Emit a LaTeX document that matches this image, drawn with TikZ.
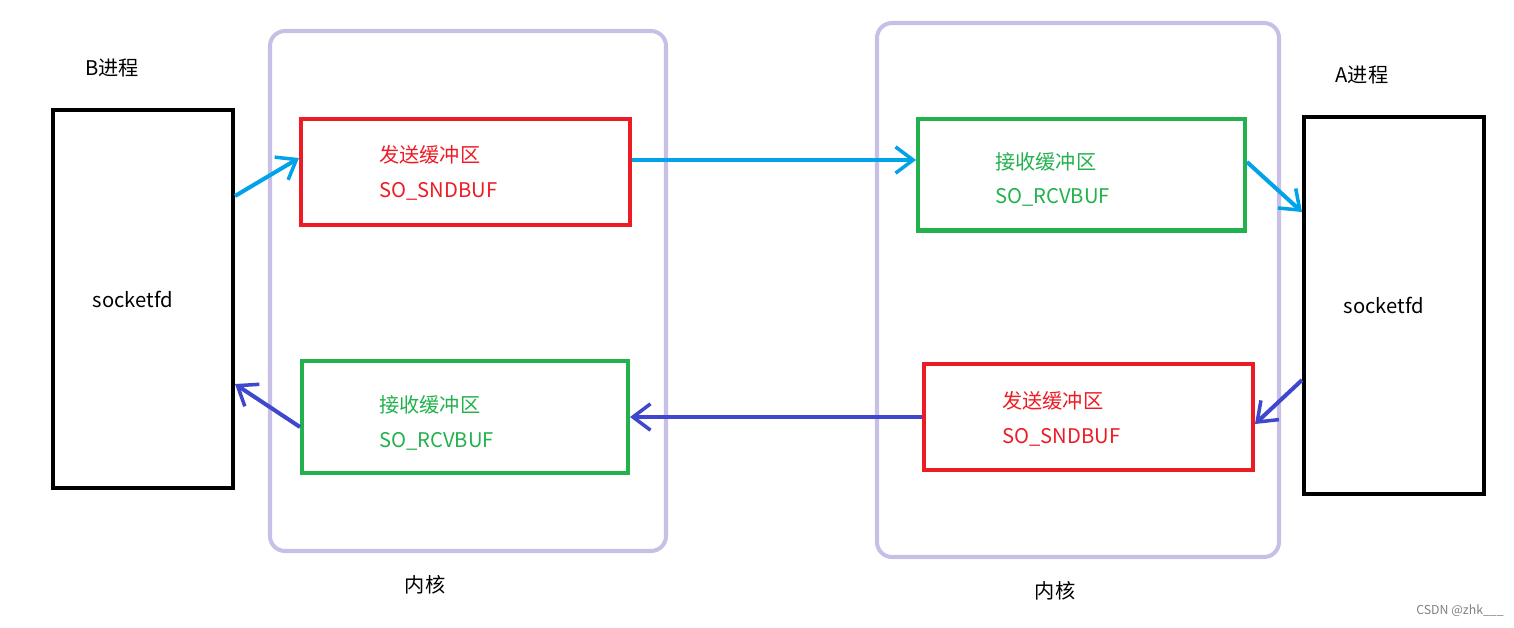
\documentclass[tikz,border=0pt]{standalone}
\usepackage{fontspec}
\setmainfont{Noto Sans CJK SC}
\usetikzlibrary{calc}
\usetikzlibrary{arrows.meta}

\definecolor{kernelc}{RGB}{200,191,231}
\definecolor{bufred}{RGB}{237,28,36}
\definecolor{bufgreen}{RGB}{34,177,76}
\definecolor{sendc}{RGB}{0,162,232}
\definecolor{backc}{RGB}{63,72,204}

\tikzset{
 kernel/.style={draw=kernelc, line width=2.3pt, rounded corners=0.3cm},
 proc/.style={draw=black, line width=2.3pt, minimum width=3.6cm, minimum height=7.56cm},
 sndbox/.style={draw=bufred, line width=2.3pt, minimum width=6.58cm, minimum height=2.12cm},
 rcvbox/.style={draw=bufgreen, line width=2.3pt, minimum width=6.54cm, minimum height=2.24cm},
 buftxt/.style={anchor=west, align=left, inner sep=0, font=\fontsize{11.5}{19.5}\selectfont},
 lbl/.style={font=\fontsize{11.5}{14}\selectfont},
 flow/.style={line width=2.3pt, -{Straight Barb[length=10pt,width=15pt,line width=2pt]}}
}

\begin{document}
\begin{tikzpicture}[x=0.02cm, y=-0.02cm]
\useasboundingbox (0,0) rectangle (1514,627);
\draw[kernel] (270,31) rectangle (666,551);
\draw[kernel] (877,23) rectangle (1279,557);

\node[proc] (procB) at (143,299) {};
\node[proc, minimum height=7.54cm] (procA) at (1394,305.5) {};
\node[lbl] at (112,68) {B进程};
\node[lbl] at (1362,75) {A进程};
\node[lbl, xshift=-0.2cm] at (procB) {socketfd};
\node[lbl, xshift=-0.2cm] at (procA) {socketfd};

\node[sndbox] (sndB) at (465.5,172) {};
\node[rcvbox, minimum width=6.52cm] (rcvB) at (465,417) {};
\node[rcvbox] (rcvA) at (1081.5,174.5) {};
\node[sndbox] (sndA) at (1088.5,417) {};

\node[buftxt, text=bufred] at ($(sndB.west)+(80,1)$) {发送缓冲区\\SO\_SNDBUF};
\node[buftxt, text=bufgreen] at ($(rcvB.west)+(79,6)$) {接收缓冲区\\SO\_RCVBUF};
\node[buftxt, text=bufgreen] at ($(rcvA.west)+(79,5)$) {接收缓冲区\\SO\_RCVBUF};
\node[buftxt, text=bufred] at ($(sndA.west)+(80,2)$) {发送缓冲区\\SO\_SNDBUF};

\node[lbl] at (425,585) {内核};
\node[lbl] at (1055,591) {内核};
\node[font=\fontsize{7}{8}\selectfont, text=gray] at (1460,611) {CSDN @zhk\_\_\_};

\draw[flow, sendc] ($(procB.east)+(0,-103)$) -- ($(sndB.west)+(0,-14)$);
\draw[flow, sendc] ($(sndB.east)+(0,-12)$) -- ($(rcvA.west)+(0,-14.5)$);
\draw[flow, sendc] ($(rcvA.east)+(0,-12.5)$) -- ($(procA.west)+(0,-93.5)$);
\draw[flow, backc] ($(procA.west)+(0,74.5)$) -- ($(sndA.east)+(0,7)$);
\draw[flow, backc] (sndA.west) -- (rcvB.east);
\draw[flow, backc] ($(rcvB.west)+(0,10)$) -- ($(procB.east)+(0,85)$);
\end{tikzpicture}
\end{document}
